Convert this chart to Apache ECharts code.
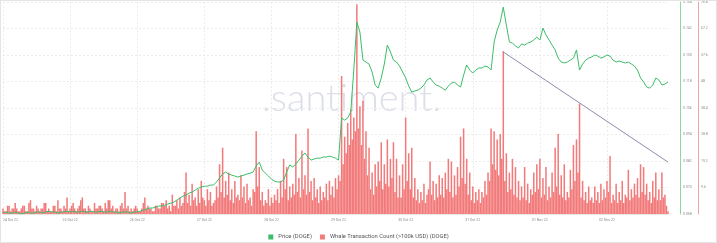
<!DOCTYPE html>
<html><head><meta charset="utf-8">
<script src="https://cdn.jsdelivr.net/npm/echarts@6/dist/echarts.min.js"></script>
<style>
html,body{margin:0;padding:0;background:#fff}
#wrap{position:relative;width:717px;height:243px}
#c{width:717px;height:243px}
#f{position:absolute;left:0;top:0;width:717px;height:243px;box-sizing:border-box;border:1px solid #e4e4e4;pointer-events:none}
</style>
</head><body>
<div id="wrap"><div id="c"></div><div id="f"></div></div>
<script>
// x tick labels (one per day), data slots per tick
const xTickLabels = ['24 Oct 22','25 Oct 22','26 Oct 22','27 Oct 22','28 Oct 22','29 Oct 22','30 Oct 22','31 Oct 22','01 Nov 22','02 Nov 22'];
const priceSlotsPerTick = 22;
const whaleSlotsPerTick = 44;

// Price (DOGE)
const priceValues = [
0.0584,0.0589,0.0584,0.0584,0.0589,0.0584,0.0580,0.0584,0.0589,0.0584,0.0584,
0.0589,0.0589,0.0584,0.0589,0.0593,0.0589,0.0589,0.0584,0.0589,0.0589,
0.0593,0.0589,0.0593,0.0589,0.0589,0.0593,0.0589,0.0589,0.0593,0.0589,
0.0589,0.0593,0.0589,0.0589,0.0593,0.0589,0.0589,0.0584,0.0589,0.0589,0.0589,0.0584,0.0589,
0.0589,0.0593,0.0598,0.0602,0.0607,0.0607,0.0611,
0.0616,0.0616,0.0620,0.0625,0.0629,0.0634,
0.0643,0.0652,0.0661,0.0666,
0.0675,0.0679,0.0688,0.0697,0.0702,
0.0706,0.0706,0.0711,0.0711,
0.0725,0.0743,0.0761,0.0770,0.0761,0.0756,
0.0752,0.0747,0.0752,0.0756,0.0761,
0.0765,0.0770,0.0797,0.0815,0.0779,
0.0765,0.0752,0.0738,0.0729,0.0725,
0.0725,0.0734,0.0770,0.0802,0.0793,
0.0806,0.0824,0.0842,0.0856,0.0838,
0.0824,0.0829,0.0833,0.0833,0.0838,
0.0838,0.0842,0.0838,0.0833,0.0824,
0.1015,0.1005,0.1015,0.1042,0.1232,0.1449,
0.1404,0.1277,0.1268,0.1259,0.1223,0.1164,0.1150,
0.1196,0.1259,0.1345,0.1314,0.1277,0.1268,0.1250,
0.1223,0.1196,0.1159,0.1132,0.1137,0.1141,0.1150,
0.1164,0.1187,0.1196,0.1178,0.1164,0.1159,0.1150,
0.1141,0.1159,0.1173,0.1178,0.1164,0.1155,
0.1209,0.1255,0.1232,0.1218,0.1232,0.1241,0.1241,
0.1250,0.1246,0.1232,
0.1359,0.1413,0.1449,0.1517,0.1436,
0.1359,0.1354,0.1341,0.1332,0.1350,0.1345,0.1354,
0.1359,0.1368,0.1381,0.1368,0.1422,0.1391,0.1368,
0.1345,0.1323,0.1286,0.1268,0.1264,0.1268,0.1277,
0.1286,0.1323,0.1232,0.1259,0.1277,0.1286,0.1291,
0.1300,0.1295,0.1286,0.1291,0.1300,0.1295,0.1277,
0.1268,0.1273,0.1268,0.1264,0.1268,0.1259,0.1250,
0.1232,0.1196,0.1178,0.1155,0.1150,0.1164,0.1196,
0.1187,0.1164,0.1169,0.1178
];

// Whale Transaction Count (>100k USD) (DOGE)
const whaleValues = [
2,1,1,3,3,1,2,2,4,2,1,1,2,3,3,1,1,4,5,2,
2,1,3,2,1,2,2,4,4,1,2,1,1,3,3,1,5,2,2,1,
3,2,6,1,2,3,4,2,1,2,3,5,6,2,2,1,3,2,1,1,
4,2,2,3,3,2,1,4,2,5,5,2,3,1,2,2,1,3,4,2,
8,2,3,1,2,
1,2,3,2,1,1,2,4,6,2,3,2,2,1,1,3,3,2,2,4,4,3,5,2,3,1,7,3,
3,5,2,6,3,4,8,15,4,7,3,11,5,6,3,9,4,12,6,5,3,9,5,8,3,4,
5,10,6,18,8,24,6,12,7,15,5,9,4,12,6,7,5,14,6,10,4,11,
5,6,3,9,8,30,10,17,5,8,3,5,4,9,3,6,4,7,5,9,
4,12,6,20,9,17,5,10,6,11,7,29,8,13,6,23,9,14,7,31,
8,12,5,13,6,9,4,10,5,8,6,11,5,12,7,10,6,13,9,14,
12,50,18,28,22,33,25,38,27,35,30,76,31,39,25,41,20,30,14,24,
9,15,7,18,10,19,12,26,9,18,11,27,10,20,13,26,8,20,6,14,
6,18,9,35,12,22,9,24,6,13,5,9,4,8,5,11,4,7,9,19,
7,12,5,11,6,14,7,13,6,15,9,20,8,19,6,14,7,17,10,28,
13,31,11,20,7,15,5,10,4,8,5,9,4,8,6,12,7,15,12,31,
18,30,16,27,14,29,20,59,12,22,8,15,9,20,7,17,6,12,5,10,
6,17,5,11,4,9,7,15,8,18,9,20,6,13,7,17,5,10,6,15,
8,24,10,29,7,14,6,18,5,8,6,16,9,25,12,27,15,40,6,12,
5,8,4,10,5,6,4,10,5,8,4,11,5,9,6,12,8,21,4,7,
5,11,4,8,5,12,4,7,6,16,5,9,6,11,7,13,6,18,8,17,
7,11,5,8,4,12,6,15,5,9,5,15,6,7,3,1
];

// drawn trend line (whale index, whale count)
const trendLinePoints = [[328, 58.7], [436, 18.8]];

// axis scales
const priceAxis = {min: 0.058, max: 0.154, interval: 0.012};
const whaleAxis = {min: 0, max: 76.8, interval: 9.6};

const priceCategories = priceValues.map((_, i) => xTickLabels[Math.floor(i / priceSlotsPerTick)] + '|' + (i % priceSlotsPerTick));
const whaleCategories = whaleValues.map((_, i) => xTickLabels[Math.floor(i / whaleSlotsPerTick)] + '|w' + (i % whaleSlotsPerTick));

const GREEN = '#3dbd69', RED = '#f27a7a';
const chart = echarts.init(document.getElementById('c'), null, {renderer: 'canvas'});
const lastPrice = priceValues[priceValues.length - 1];
const lastWhale = whaleValues[whaleValues.length - 1];

chart.setOption({
  animation: false,
  textStyle: {fontFamily: 'Roboto, sans-serif'},
  grid: {left: 1, right: 49, top: 2, bottom: 29},
  graphic: [{
    type: 'text', left: 262, top: 80, z: 0, silent: true,
    style: {text: '.santiment.', font: '300 38px Lato, sans-serif', fill: '#dcdee8'}
  }],
  legend: {
    top: 229, left: 'center', icon: 'rect', itemWidth: 5, itemHeight: 5, itemGap: 8,
    textStyle: {fontSize: 5.8, color: '#555'},
    data: ['Price (DOGE)', 'Whale Transaction Count (>100k USD) (DOGE)']
  },
  xAxis: [{
    type: 'category', data: priceCategories, boundaryGap: false,
    axisLine: {show: true, lineStyle: {color: '#e6e6e6'}},
    axisTick: {show: false},
    axisLabel: {
      interval: (i) => i % priceSlotsPerTick === 0,
      formatter: (v) => v.split('|')[0],
      fontSize: 3.5, color: '#8c8c8c', margin: 4, alignMinLabel: 'left'
    },
    splitLine: {show: true, interval: (i) => i % priceSlotsPerTick === 0, lineStyle: {color: '#ececec', type: [2, 2]}}
  }, {
    type: 'category', data: whaleCategories, boundaryGap: false, show: false
  }],
  yAxis: [{
    type: 'value', position: 'right', offset: 12,
    min: priceAxis.min, max: priceAxis.max, interval: priceAxis.interval,
    axisLine: {show: true, lineStyle: {color: '#8fd6a6'}},
    axisTick: {show: false},
    axisLabel: {fontSize: 3.5, color: '#8c8c8c', margin: 3, formatter: (v) => v.toFixed(3)},
    splitLine: {show: true, lineStyle: {color: '#ececec', type: [2, 2]}}
  }, {
    type: 'value', position: 'right', offset: 30,
    min: whaleAxis.min, max: whaleAxis.max, interval: whaleAxis.interval,
    axisLine: {show: true, lineStyle: {color: '#f3a3a3'}},
    axisTick: {show: false},
    axisLabel: {fontSize: 3.5, color: '#8c8c8c', margin: 3, showMinLabel: false, formatter: (v) => String(+v.toFixed(3))},
    splitLine: {show: false}
  }],
  series: [{
    name: 'Whale Transaction Count (>100k USD) (DOGE)', type: 'bar', xAxisIndex: 1, yAxisIndex: 1,
    data: whaleValues, barCategoryGap: '0%', itemStyle: {color: RED}, z: 1,
    markLine: {
      silent: true, symbol: 'none', animation: false,
      data: [
        {yAxis: lastWhale, lineStyle: {opacity: 0},
         label: {show: true, position: 'end', distance: 31, formatter: String(lastWhale),
                 backgroundColor: '#ef5a5a', color: '#fff', fontSize: 3.5, padding: [1.5, 2.5]}},
        [{coord: [whaleCategories[trendLinePoints[0][0]], trendLinePoints[0][1]],
          lineStyle: {color: '#8b8cab', width: 1, type: 'solid'}, label: {show: false}},
         {coord: [whaleCategories[trendLinePoints[1][0]], trendLinePoints[1][1]]}]
      ]
    }
  }, {
    name: 'Price (DOGE)', type: 'line', xAxisIndex: 0, yAxisIndex: 0, data: priceValues,
    symbol: 'none', z: 3, itemStyle: {color: GREEN}, lineStyle: {color: GREEN, width: 1},
    markLine: {
      silent: true, symbol: 'none', animation: false,
      data: [{yAxis: lastPrice, lineStyle: {opacity: 0},
        label: {show: true, position: 'end', distance: 13, formatter: lastPrice.toFixed(3),
                backgroundColor: '#2fb75a', color: '#fff', fontSize: 3.5, padding: [1.5, 2.5]}}]
    }
  }]
});
</script>
</body></html>
